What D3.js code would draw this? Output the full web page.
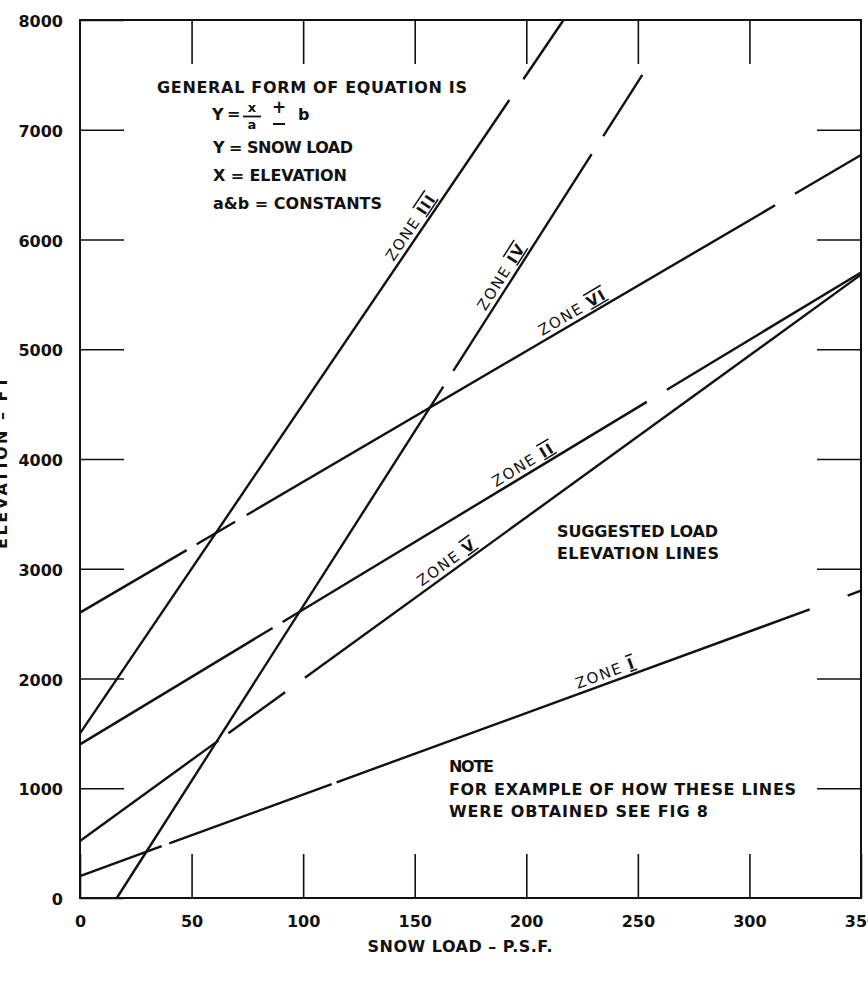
<!DOCTYPE html>
<html><head><meta charset="utf-8">
<script src="https://cdn.jsdelivr.net/npm/d3@7"></script>
<style>
html,body{margin:0;padding:0;background:#fff;}
svg{display:block;}
text{font-family:"DejaVu Sans",sans-serif;fill:#111;}
</style></head><body>
<svg id="chart" width="868" height="985"></svg>
<script>
// ---- data ----
const xTickValues = [0, 50, 100, 150, 200, 250, 300, 350];
const yTickValues = [0, 1000, 2000, 3000, 4000, 5000, 6000, 7000, 8000];
const zoneNames = ["I", "II", "III", "IV", "V", "VI"];
const zoneStartLoad = [0, 0, 0, 16.5, 0, 0];
const zoneStartElev = [200, 1400, 1500, 0, 520, 2600];
const zoneEndLoad = [350, 350, 216.7, 252, 350, 350];
const zoneEndElev = [2800, 5700, 8000, 7500, 5680, 6770];
// breaks in each drawn line (snow load ranges, psf)
const zoneGaps = [
  [[36.6, 40.0], [112.8, 115.0], [327, 344]],
  [[86.3, 90.8], [254, 263]],
  [[192.4, 198.7]],
  [[162.8, 167.3], [229.3, 234.5]],
  [[62.0, 66.5], [91.9, 100.8]],
  [[47.8, 52.3], [69.5, 74.7], [311.5, 320.4]]
];
// where along each line (psf) its label sits
const zoneLabelLoad = [237, 201, 152, 192.7, 167, 223];

// ---- layout ----
const L = 80, R = 861, T = 20, B = 898;
const svg = d3.select("#chart");
const x = d3.scaleLinear().domain([0, 350]).range([L, R]);
const y = d3.scaleLinear().domain([0, 8000]).range([B, T]);
const ink = "#111";

// frame
svg.append("rect").attr("x", L).attr("y", T).attr("width", R - L).attr("height", B - T)
  .attr("fill", "none").attr("stroke", ink).attr("stroke-width", 2);

function styleAxis(g) {
  g.select(".domain").remove();
  g.selectAll(".tick line").attr("stroke", ink).attr("stroke-width", 1.6);
  g.selectAll(".tick text").attr("fill", ink).style("font-size", "16px")
    .style("font-weight", "bold").style("font-family", "'DejaVu Sans',sans-serif");
}
const tk = 44;
svg.append("g").attr("transform", `translate(0,${B})`)
  .call(d3.axisBottom(x).tickValues(xTickValues).tickSize(-tk).tickPadding(18).tickFormat(d3.format("d")))
  .call(styleAxis);
svg.append("g").attr("transform", `translate(${L},0)`)
  .call(d3.axisLeft(y).tickValues(yTickValues).tickSize(-tk).tickPadding(17).tickFormat(d3.format("d")))
  .call(styleAxis)
  .selectAll(".tick text").attr("dy", "0.42em");
svg.append("g").attr("transform", `translate(0,${T})`)
  .call(d3.axisTop(x).tickValues(xTickValues.slice(1, -1)).tickSize(-tk).tickFormat(""))
  .call(styleAxis);
svg.append("g").attr("transform", `translate(${R},0)`)
  .call(d3.axisRight(y).tickValues(yTickValues.slice(1, -1)).tickSize(-tk).tickFormat(""))
  .call(styleAxis);

// zone lines
const line = d3.line().x(d => x(d[0])).y(d => y(d[1]));
zoneNames.forEach((name, i) => {
  const sL = zoneStartLoad[i], sE = zoneStartElev[i], eL = zoneEndLoad[i], eE = zoneEndElev[i];
  const elev = p => sE + (eE - sE) * (p - sL) / (eL - sL);
  let cur = sL;
  const segs = [];
  zoneGaps[i].forEach(g => { segs.push([cur, g[0]]); cur = g[1]; });
  segs.push([cur, eL]);
  segs.forEach(s => {
    svg.append("path").attr("d", line([[s[0], elev(s[0])], [s[1], elev(s[1])]]))
      .attr("fill", "none").attr("stroke", ink).attr("stroke-width", 2.4).attr("stroke-linecap", "butt");
  });
  // label
  const p = zoneLabelLoad[i];
  const px = x(p), py = y(elev(p));
  const ang = Math.atan2(y(eE) - y(sE), x(eL) - x(sL)) * 180 / Math.PI;
  const t = svg.append("text").attr("transform", `translate(${px},${py}) rotate(${ang})`)
    .attr("y", -5).attr("text-anchor", "middle")
    .style("font-size", "15px").style("letter-spacing", "1.6px");
  t.append("tspan").text("ZONE ");
  t.append("tspan").style("text-decoration", "overline underline").style("font-weight", "bold").text(name);
});

// annotation text
function label(str, tx, ty, len) {
  svg.append("text").attr("x", tx).attr("y", ty).attr("textLength", len).attr("lengthAdjust", "spacing")
    .style("font-size", "16px").style("font-weight", "bold").text(str);
}
label("GENERAL FORM OF EQUATION IS", 157, 93, 310);
// equation Y = x/a ± b
label("Y", 212, 120, 11);
label("=", 227, 119, 9);
svg.append("text").attr("x", 252).attr("y", 112).attr("text-anchor", "middle")
  .style("font-size", "13px").style("font-weight", "bold").text("x");
svg.append("line").attr("x1", 243).attr("x2", 261).attr("y1", 116.5).attr("y2", 116.5)
  .attr("stroke", ink).attr("stroke-width", 1.8);
svg.append("text").attr("x", 252).attr("y", 129).attr("text-anchor", "middle")
  .style("font-size", "13px").style("font-weight", "bold").text("a");
svg.append("text").attr("x", 279).attr("y", 113).attr("text-anchor", "middle")
  .style("font-size", "17px").style("font-weight", "bold").text("+");
svg.append("line").attr("x1", 273).attr("x2", 285).attr("y1", 124).attr("y2", 124)
  .attr("stroke", ink).attr("stroke-width", 2);
label("b", 298, 120, 10);

label("Y = SNOW LOAD", 213, 153, 140);
label("X = ELEVATION", 213, 181, 134);
label("a&b = CONSTANTS", 213, 209, 169);
label("SUGGESTED LOAD", 557, 537, 161);
label("ELEVATION LINES", 557, 559, 162);
label("NOTE", 449, 772, 45);
label("FOR EXAMPLE OF HOW THESE LINES", 449, 795, 347);
label("WERE OBTAINED SEE FIG 8", 449, 817, 259);

// axis titles
svg.append("text").attr("x", 460).attr("y", 952).attr("text-anchor", "middle")
  .attr("textLength", 185).attr("lengthAdjust", "spacing")
  .style("font-size", "16px").style("font-weight", "bold").text("SNOW LOAD – P.S.F.");
svg.append("text").attr("transform", "translate(7,463) rotate(-90)").attr("text-anchor", "middle")
  .attr("textLength", 172).attr("lengthAdjust", "spacing")
  .style("font-size", "16px").style("font-weight", "bold").text("ELEVATION – FT");
</script>
</body></html>
